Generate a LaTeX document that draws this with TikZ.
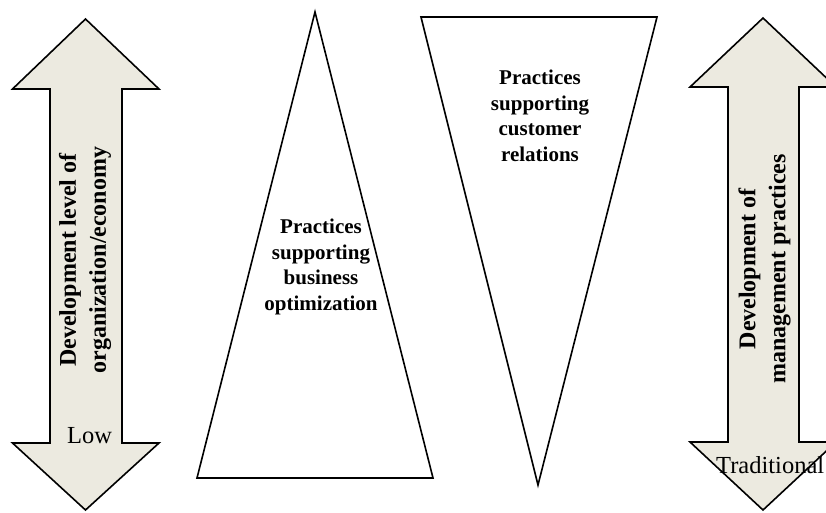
\documentclass[tikz,border=0pt]{standalone}
\usepackage{fontspec}
\setmainfont{Liberation Serif}
\definecolor{axisfill}{RGB}{236,234,224}

\begin{document}
\begin{tikzpicture}[
  x=1pt, y=-1pt,
  axis/.style={draw=black, fill=axisfill, line width=1.6pt, line join=miter},
  wedge/.style={draw=black, fill=white, line width=1.6pt, line join=miter},
  inlabel/.style={font=\fontsize{21}{25.5}\selectfont\bfseries, align=center, inner sep=0pt},
  axislabel/.style={font=\fontsize{24}{30}\selectfont\bfseries, align=center,
                    rotate=90, inner sep=0pt},
  endlabel/.style={font=\fontsize{24.5}{28}\selectfont, inner sep=0pt, anchor=base west}
]
\useasboundingbox (0,0) rectangle (826,512);
\clip (0,0) rectangle (826,512);

% left double arrow
\draw[axis] (85.5,19) -- (159,89) -- (122,89) -- (122,443) -- (159,443)
  -- (85.5,510) -- (12.5,443) -- (50,443) -- (50,89) -- (12.5,89) -- cycle;

% right double arrow (runs past the edge)
\draw[axis] (763,18) -- (836,87) -- (799,87) -- (799,442) -- (836,442)
  -- (763,510) -- (690,442) -- (728,442) -- (728,87) -- (690,87) -- cycle;

% two triangles
\draw[wedge] (315,12) -- (433,478) -- (197,478) -- cycle;
\draw[wedge] (421,17) -- (657,17) -- (538,485) -- cycle;

% texts
\node[inlabel] (optim) at (321,267) {Practices\\supporting\\business\\optimization};
\node[inlabel] (cust) at (540,116) {Practices\\supporting\\customer\\relations};
\node[axislabel] (orglevel) at (85,260) {Development level of\\organization/economy};
\node[axislabel] (mgmt) at (764.5,269) {Development of\\management practices};
\node[endlabel] (low) at (67,443) {Low};
\node[endlabel] (trad) at (716,473) {Traditional};
\end{tikzpicture}
\end{document}
